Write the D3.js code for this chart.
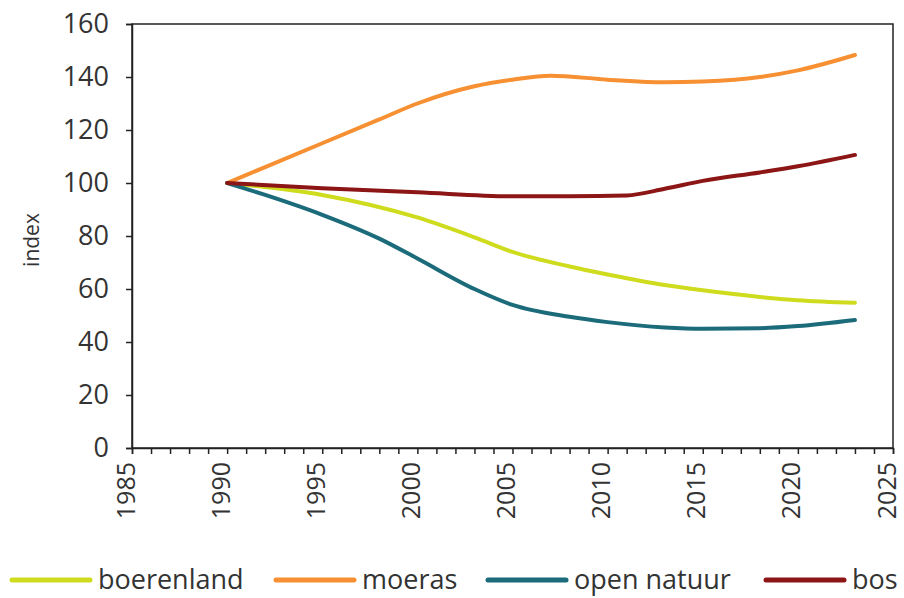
<!DOCTYPE html>
<html><head><meta charset="utf-8">
<script src="https://cdn.jsdelivr.net/npm/d3@7"></script>
<style>body{margin:0;background:#fff}svg{display:block}text{font-family:"Open Sans",sans-serif;fill:#333}</style>
</head><body><svg id="c" width="904" height="598"></svg>
<script>
const seriesNames = ["boerenland", "moeras", "open natuur", "bos"];
const seriesColors = ["#cfdc1e", "#f79032", "#1b6b7b", "#8c1515"];
const boerenlandYears = [1990, 1995, 2000, 2003, 2005, 2008, 2010, 2013, 2015, 2018, 2020, 2023];
const boerenlandValues = [100, 95.5, 87, 79.5, 74, 68.5, 65.5, 61.5, 59.5, 57, 55.8, 54.8];
const moerasYears = [1990, 1992, 1995, 1998, 2000, 2003, 2005, 2007, 2010, 2013, 2015, 2018, 2020, 2023];
const moerasValues = [100, 106, 115, 124, 130, 136.5, 139, 140.5, 139, 138, 138.3, 140, 142.5, 148.3];
const openNatuurYears = [1990, 1992, 1995, 1998, 2000, 2003, 2005, 2008, 2010, 2013, 2015, 2018, 2020, 2023];
const openNatuurValues = [100, 95.5, 88, 79, 71.5, 60, 54, 49.5, 47.5, 45.5, 45, 45.2, 46, 48.3];
const bosYears = [1990, 1995, 2000, 2005, 2008, 2011, 2013, 2015, 2018, 2020, 2023];
const bosValues = [100, 98, 96.5, 95, 95, 95.3, 97.8, 100.8, 104, 106.3, 110.6];
const yTicks = [0, 20, 40, 60, 80, 100, 120, 140, 160];
const xLabelTicks = [1985, 1990, 1995, 2000, 2005, 2010, 2015, 2020, 2025];

const series = [
  {name: seriesNames[0], color: seriesColors[0], pts: boerenlandYears.map((y,i)=>[y, boerenlandValues[i]])},
  {name: seriesNames[1], color: seriesColors[1], pts: moerasYears.map((y,i)=>[y, moerasValues[i]])},
  {name: seriesNames[2], color: seriesColors[2], pts: openNatuurYears.map((y,i)=>[y, openNatuurValues[i]])},
  {name: seriesNames[3], color: seriesColors[3], pts: bosYears.map((y,i)=>[y, bosValues[i]])}
];

const svg = d3.select("#c");
const m = {l:132, r:893, t:24, b:448};
const x = d3.scaleLinear().domain([1985, 2025]).range([m.l, m.r]);
const y = d3.scaleLinear().domain([0, 160]).range([m.b, m.t]);

// frame
svg.append("rect").attr("x", m.l).attr("y", m.t).attr("width", m.r-m.l).attr("height", m.b-m.t)
  .attr("fill", "none").attr("stroke", "#222").attr("stroke-width", 1.5);

// y axis
const ya = svg.append("g").attr("transform", `translate(${m.l},0)`)
  .call(d3.axisLeft(y).tickValues(yTicks).tickSize(6).tickPadding(17));
ya.select(".domain").attr("stroke", "#222").attr("stroke-width", 1.5);
ya.selectAll(".tick line").attr("stroke", "#222").attr("stroke-width", 1.5);
ya.selectAll(".tick text").attr("font-size", 27).attr("font-family", "Open Sans").attr("fill", "#333");

// x axis
const xa = svg.append("g").attr("transform", `translate(0,${m.b})`)
  .call(d3.axisBottom(x).tickValues(d3.range(1985, 2026)).tickSize(6)
    .tickFormat(d => xLabelTicks.includes(d) ? String(d) : ""));
xa.select(".domain").attr("stroke", "#222").attr("stroke-width", 1.5);
xa.selectAll(".tick line").attr("stroke", "#222").attr("stroke-width", 1.5);
xa.selectAll(".tick text").attr("font-size", 25).attr("font-family", "Open Sans").attr("fill", "#333")
  .attr("text-anchor", "end").attr("transform", "rotate(-90)")
  .attr("x", -14).attr("y", 0).attr("dy", "0.08em");

// y label
svg.append("text").attr("transform", "translate(32,240) rotate(-90)")
  .attr("text-anchor", "middle").attr("dy", "0.35em").attr("font-size", 21).text("index");

// lines
const line = d3.line().x(d => x(d[0])).y(d => y(d[1])).curve(d3.curveMonotoneX);
svg.selectAll("path.s").data(series).join("path").attr("class", "s")
  .attr("d", d => line(d.pts)).attr("fill", "none").attr("stroke", d => d.color)
  .attr("stroke-width", 4).attr("stroke-linecap", "round").attr("stroke-linejoin", "round");

// legend
const legX = [12, 276, 488, 766];
const lg = svg.append("g");
series.forEach((s, i) => {
  lg.append("line").attr("x1", legX[i]).attr("x2", legX[i] + 78).attr("y1", 580).attr("y2", 580)
    .attr("stroke", s.color).attr("stroke-width", 5).attr("stroke-linecap", "round");
  lg.append("text").attr("x", legX[i] + 86).attr("y", 580).attr("dy", "0.35em")
    .attr("font-size", 27).text(s.name);
});
</script></body></html>
